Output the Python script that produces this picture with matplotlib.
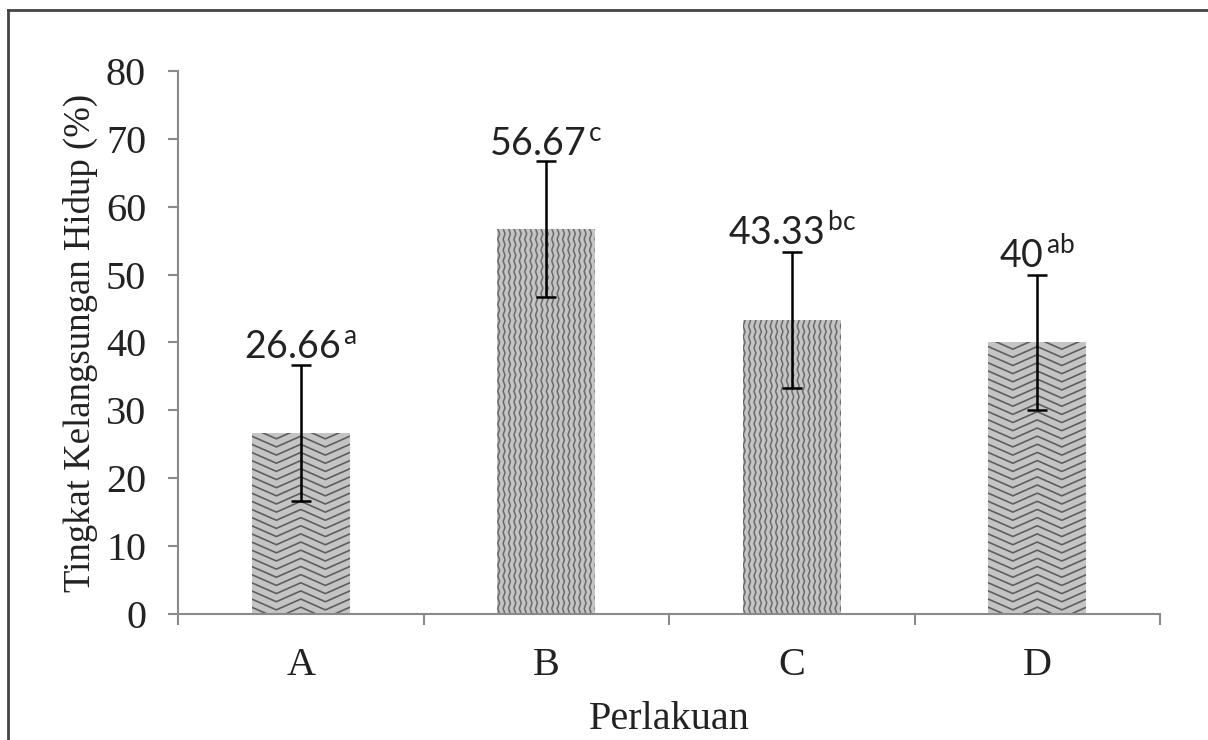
#!/usr/bin/env python3
"""Bar chart: Tingkat Kelangsungan Hidup per perlakuan"""
import numpy as np
import matplotlib
matplotlib.use('Agg')
import matplotlib.pyplot as plt
from matplotlib.lines import Line2D

plt.rcParams.update({
    'font.family': 'Liberation Serif',
    'mathtext.fontset': 'custom',
    'mathtext.rm': 'Lato',
    'mathtext.it': 'Lato',
})

# Data
categories = ['A', 'B', 'C', 'D']
survival = [26.66, 56.67, 43.33, 40.0]
errors = [10, 10, 10, 10]
value_labels = ['26.66', '56.67', '43.33', '40']
letters = ['a', 'c', 'bc', 'ab']
textures = ['h', 'v', 'v', 'h']

fig = plt.figure(figsize=(12.08, 7.40), dpi=100)
ax = fig.add_axes([0.1474, 0.1703, 0.8129, 0.7338])

x = np.arange(len(categories))
bars = ax.bar(x, survival, width=0.4, color='#c4c4c4', edgecolor='none', zorder=1)


def add_texture(bar, kind):
    # zigzag fill texture, clipped to the bar
    x0, y0 = bar.get_x(), bar.get_y()
    w, h = bar.get_width(), bar.get_height()
    if kind == 'h':
        xs = np.linspace(x0, x0 + w, 200)
        tri = np.abs(((xs - x0) / 0.2) % 1 - 0.5) * 2
        for yy in np.arange(y0 - 3, y0 + h + 3, 1.2):
            ln, = ax.plot(xs, yy + 1.6 * tri, color='#5e5e5e', lw=1.2, zorder=2)
            ln.set_clip_path(bar)
    else:
        ys = np.linspace(y0, y0 + h, 400)
        tri = np.abs(((ys - y0) / 1.6) % 1 - 0.5) * 2
        for xx in np.arange(x0 - 0.02, x0 + w + 0.02, 0.022):
            ln, = ax.plot(xx + 0.008 * tri, ys, color='#6a6a6a', lw=1.1, zorder=2)
            ln.set_clip_path(bar)


for bar, kind in zip(bars, textures):
    add_texture(bar, kind)

ax.errorbar(x, survival, yerr=errors, fmt='none', ecolor='black',
            elinewidth=1.8, capsize=7, capthick=1.8, zorder=4)

for xi, val, err, lab, let in zip(x, survival, errors, value_labels, letters):
    ax.annotate(lab + r'$^{\,\mathrm{' + let + '}}$', xy=(xi, val + err),
                xytext=(0, 5), textcoords='offset points',
                ha='center', va='baseline', fontsize=27, family='Lato',
                color='#222222', zorder=5)

ax.set_xlim(-0.5, 3.5)
ax.set_ylim(0, 80)
ax.set_yticks(np.arange(0, 81, 10))
ax.set_xticks(x)
ax.set_xticklabels(categories)
ax.set_xticks(np.arange(-0.5, 3.6, 1), minor=True)

for side in ['top', 'right']:
    ax.spines[side].set_visible(False)
for side in ['left', 'bottom']:
    ax.spines[side].set_color('#8a8a8a')
    ax.spines[side].set_linewidth(1.5)

ax.tick_params(axis='y', direction='out', length=7, width=1.5, color='#8a8a8a',
               labelsize=29, pad=16, labelcolor='#222222')
ax.tick_params(axis='x', which='major', length=0, labelsize=29, pad=24,
               labelcolor='#222222')
ax.tick_params(axis='x', which='minor', direction='out', length=8, width=1.5,
               color='#8a8a8a')

ax.set_xlabel('Perlakuan', fontsize=29, labelpad=12, color='#222222')
ax.set_ylabel('Tingkat Kelangsungan Hidup (%)', fontsize=26.5, labelpad=6,
              color='#222222')

# frame lines (top and left)
fig.add_artist(Line2D([8 / 1208, 8 / 1208], [0, 1 - 10 / 740], color='#444444',
                      lw=2, transform=fig.transFigure))
fig.add_artist(Line2D([8 / 1208, 1], [1 - 10 / 740, 1 - 10 / 740], color='#444444',
                      lw=2, transform=fig.transFigure))

fig.savefig('out.png', dpi=100)
